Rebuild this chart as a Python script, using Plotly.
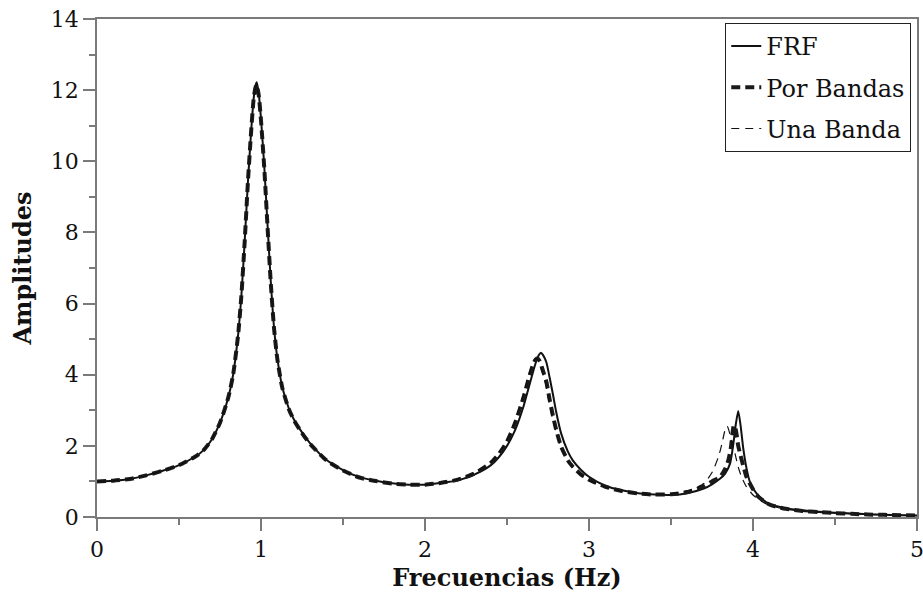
import plotly.graph_objects as go

# ---------------- data ----------------
x_frf = [0, 0.1, 0.2, 0.3, 0.4, 0.5, 0.6, 0.65, 0.7, 0.75,
         0.8, 0.83, 0.86, 0.88, 0.90, 0.92, 0.94, 0.955, 0.965, 0.974,
         0.985, 1.0, 1.02, 1.04, 1.06, 1.08, 1.10, 1.13, 1.17, 1.2,
         1.25, 1.3, 1.4, 1.5, 1.6, 1.7, 1.8, 1.9, 2.0, 2.1,
         2.2, 2.3, 2.4, 2.45, 2.5, 2.55, 2.6, 2.63, 2.66, 2.68,
         2.695, 2.707, 2.72, 2.74, 2.76, 2.78, 2.8, 2.83, 2.87, 2.9,
         2.95, 3.0, 3.1, 3.2, 3.3, 3.4, 3.5, 3.6, 3.7, 3.75,
         3.8, 3.83, 3.86, 3.88, 3.895, 3.91, 3.925, 3.94, 3.96, 3.98,
         4.0, 4.05, 4.1, 4.2, 4.3, 4.4, 4.5, 4.6, 4.7, 4.8,
         4.9, 5.0]
y_frf = [1.00, 1.02, 1.07, 1.17, 1.30, 1.46, 1.70, 1.88, 2.18, 2.65,
         3.35, 4.00, 5.10, 6.20, 7.70, 9.40, 10.85, 11.75, 12.10, 12.22,
         11.95, 11.20, 9.85, 8.20, 6.60, 5.30, 4.45, 3.65, 3.05, 2.75,
         2.38, 2.07, 1.60, 1.32, 1.12, 1.02, 0.95, 0.91, 0.91, 0.96,
         1.03, 1.19, 1.45, 1.68, 2.00, 2.45, 3.10, 3.60, 4.10, 4.40,
         4.56, 4.62, 4.55, 4.35, 3.92, 3.45, 2.95, 2.35, 1.85, 1.60,
         1.33, 1.13, 0.88, 0.75, 0.67, 0.63, 0.62, 0.67, 0.80, 0.92,
         1.08, 1.22, 1.50, 2.05, 2.60, 2.98, 2.55, 1.95, 1.38, 1.00,
         0.80, 0.52, 0.37, 0.25, 0.19, 0.15, 0.12, 0.10, 0.08, 0.06,
         0.05, 0.04]

x_pb = [0, 0.1, 0.2, 0.3, 0.4, 0.5, 0.6, 0.65, 0.7, 0.75,
        0.8, 0.83, 0.86, 0.88, 0.90, 0.92, 0.94, 0.955, 0.965, 0.972,
        0.985, 1.0, 1.02, 1.04, 1.06, 1.08, 1.10, 1.13, 1.17, 1.2,
        1.25, 1.3, 1.4, 1.5, 1.6, 1.7, 1.8, 1.9, 2.0, 2.1,
        2.2, 2.3, 2.4, 2.45, 2.5, 2.55, 2.6, 2.63, 2.66, 2.675,
        2.687, 2.70, 2.72, 2.74, 2.76, 2.78, 2.8, 2.83, 2.87, 2.9,
        2.95, 3.0, 3.1, 3.2, 3.3, 3.4, 3.5, 3.6, 3.7, 3.75,
        3.8, 3.83, 3.85, 3.865, 3.875, 3.883, 3.895, 3.91, 3.92, 3.94,
        3.96, 4.0, 4.03, 4.1, 4.2, 4.3, 4.4, 4.5, 4.6, 4.7,
        4.8, 4.9, 5.0]
y_pb = [1.00, 1.02, 1.07, 1.17, 1.30, 1.46, 1.70, 1.88, 2.18, 2.65,
        3.35, 4.00, 5.10, 6.20, 7.70, 9.40, 10.85, 11.75, 12.05, 12.15,
        11.90, 11.15, 9.80, 8.15, 6.55, 5.28, 4.43, 3.63, 3.03, 2.73,
        2.36, 2.05, 1.59, 1.31, 1.11, 1.01, 0.94, 0.91, 0.91, 0.96,
        1.05, 1.22, 1.52, 1.77, 2.12, 2.65, 3.35, 3.85, 4.30, 4.43,
        4.46, 4.38, 4.10, 3.80, 3.30, 2.85, 2.45, 1.98, 1.60, 1.42,
        1.20, 1.05, 0.85, 0.73, 0.66, 0.63, 0.64, 0.70, 0.86, 1.00,
        1.13, 1.35, 1.60, 1.95, 2.35, 2.58, 2.45, 2.00, 1.80, 1.45,
        1.13, 0.78, 0.58, 0.35, 0.23, 0.17, 0.14, 0.11, 0.09, 0.07,
        0.06, 0.05, 0.04]

x_ub = [0, 0.1, 0.2, 0.3, 0.4, 0.5, 0.6, 0.65, 0.7, 0.75,
        0.8, 0.83, 0.86, 0.88, 0.90, 0.92, 0.94, 0.955, 0.965, 0.972,
        0.985, 1.0, 1.02, 1.04, 1.06, 1.08, 1.10, 1.13, 1.17, 1.2,
        1.25, 1.3, 1.4, 1.5, 1.6, 1.7, 1.8, 1.9, 2.0, 2.1,
        2.2, 2.3, 2.4, 2.45, 2.5, 2.55, 2.6, 2.63, 2.655, 2.67,
        2.682, 2.695, 2.715, 2.735, 2.755, 2.775, 2.8, 2.83, 2.87, 2.9,
        2.95, 3.0, 3.1, 3.2, 3.3, 3.4, 3.5, 3.6, 3.65, 3.7,
        3.75, 3.79, 3.81, 3.83, 3.843, 3.855, 3.87, 3.89, 3.91, 3.93,
        3.96, 4.0, 4.05, 4.1, 4.2, 4.3, 4.4, 4.5, 4.6, 4.7,
        4.8, 4.9, 5.0]
y_ub = [1.00, 1.02, 1.07, 1.17, 1.30, 1.46, 1.70, 1.88, 2.18, 2.65,
        3.35, 4.00, 5.10, 6.20, 7.70, 9.40, 10.85, 11.75, 12.05, 12.15,
        11.90, 11.15, 9.80, 8.15, 6.55, 5.28, 4.43, 3.63, 3.03, 2.73,
        2.36, 2.05, 1.59, 1.31, 1.11, 1.01, 0.94, 0.91, 0.91, 0.96,
        1.06, 1.23, 1.54, 1.80, 2.16, 2.72, 3.45, 3.95, 4.30, 4.42,
        4.45, 4.36, 4.08, 3.75, 3.27, 2.82, 2.38, 1.95, 1.58, 1.40,
        1.18, 1.03, 0.84, 0.72, 0.66, 0.63, 0.65, 0.74, 0.82, 0.94,
        1.25, 1.70, 2.05, 2.45, 2.55, 2.40, 2.10, 1.79, 1.40, 1.13,
        0.85, 0.62, 0.45, 0.33, 0.22, 0.16, 0.13, 0.11, 0.09, 0.07,
        0.06, 0.05, 0.04]

series_names = ["FRF", "Por Bandas", "Una Banda"]
x_ticks = [0, 1, 2, 3, 4, 5]
y_ticks = [0, 2, 4, 6, 8, 10, 12, 14]
x_title = "Frecuencias (Hz)"
y_title = "Amplitudes"

# ---------------- figure ----------------
FONT = "DejaVu Serif"
AX = "#7a7a7a"

fig = go.Figure()
fig.add_trace(go.Scatter(x=x_frf, y=y_frf, mode="lines", name=series_names[0],
                         legendgroup="a",
                         line=dict(color="#111111", width=2, shape="spline", smoothing=0.6)))
fig.add_trace(go.Scatter(x=x_pb, y=y_pb, mode="lines", name=series_names[1],
                         legendgroup="b",
                         line=dict(color="#1a1a1a", width=4, dash="9px,5px",
                                   shape="spline", smoothing=0.6)))
fig.add_trace(go.Scatter(x=x_ub, y=y_ub, mode="lines", name=series_names[2],
                         legendgroup="c",
                         line=dict(color="#111111", width=1.2, dash="8px,6px",
                                   shape="spline", smoothing=0.6)))

axis_common = dict(showgrid=False, zeroline=False, showline=True, linecolor=AX,
                   linewidth=1.5, mirror=True, ticks="outside", tickcolor=AX,
                   tickwidth=1.5, ticklen=12, automargin=False,
                   ticklabeloverflow="allow",
                   tickfont=dict(family=FONT, size=22, color="#111111"))

fig.update_layout(
    width=923, height=604,
    margin=dict(l=97, r=6, t=19, b=87),
    paper_bgcolor="white", plot_bgcolor="white",
    font=dict(family=FONT, color="#111111"),
    xaxis=dict(range=[0, 5], tickvals=x_ticks, **axis_common,
               minor=dict(dtick=0.5, ticks="outside", ticklen=6, tickcolor=AX, tickwidth=1.5),
               title=dict(text="<b>" + x_title + "</b>", font=dict(family=FONT, size=24), standoff=8)),
    yaxis=dict(range=[0, 14], tickvals=y_ticks, **axis_common,
               minor=dict(dtick=1, ticks="outside", ticklen=6, tickcolor=AX, tickwidth=1.5),
               title=dict(text="<b>" + y_title + "</b>", font=dict(family=FONT, size=24), standoff=12)),
    legend=dict(x=0.993, y=0.992, xanchor="right", yanchor="top",
                bordercolor="#222222", borderwidth=1, bgcolor="white",
                font=dict(family=FONT, size=24), traceorder="grouped",
                tracegroupgap=7),
    showlegend=True,
)

# remove the default 8 px page margin so the figure fills the window exactly
fig.write_html("out.html", config={"displayModeBar": False},
               post_script="document.body.style.margin='0px';")
